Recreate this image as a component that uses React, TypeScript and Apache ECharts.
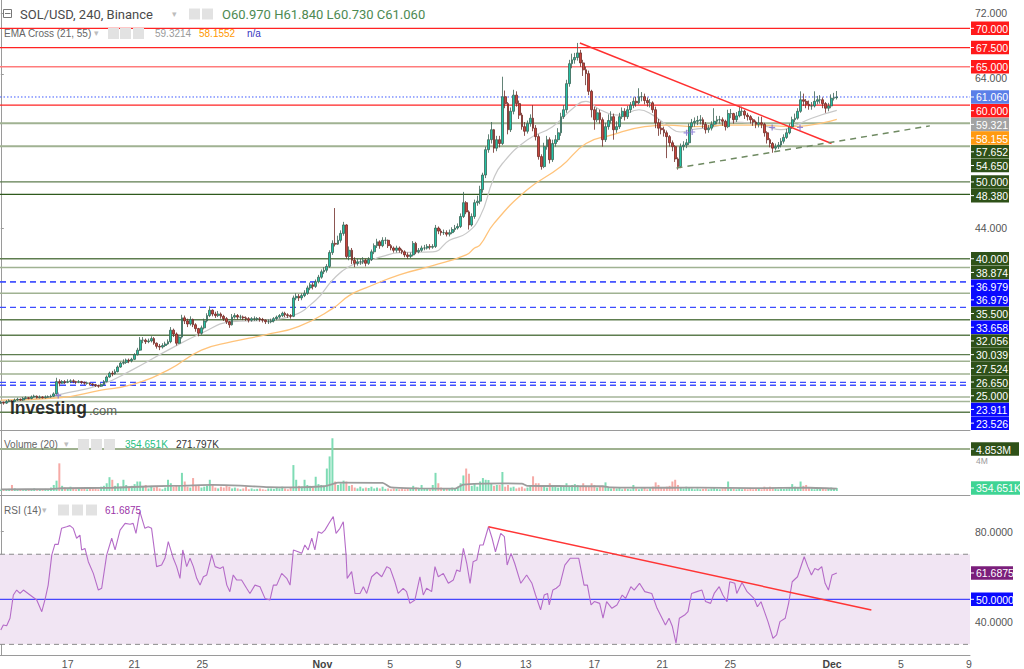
import React, { useEffect, useRef } from "react";
import * as echarts from "echarts";

// ---------- DATA (4h bars, index = bar number) ----------
const firstOpen = 21.2;
const closes = [
  21.3, 21.2, 21.4, 21.5, 21.4, 21.6, 21.7, 21.6, 21.8, 21.9,
  21.8, 22.0, 22.1, 21.9, 22.0, 21.9, 22.0, 22.0, 22.1, 22.4,
  24.0, 23.8, 24.0, 23.9, 24.0, 24.1, 24.0, 23.9, 24.0, 23.9,
  23.8, 23.8, 23.7, 23.6, 23.5, 23.4, 23.6, 24.0, 24.6, 25.1,
  25.0, 25.3, 25.9, 26.4, 26.5, 26.8, 26.7, 26.9, 27.5, 28.1,
  29.4, 29.4, 29.2, 29.3, 29.6, 29.0, 28.6, 28.5, 28.7, 28.9,
  29.2, 30.7, 30.2, 29.0, 29.8, 32.3, 31.9, 31.5, 32.1, 31.4,
  30.9, 30.3, 31.0, 31.9, 32.6, 33.3, 32.8, 32.6, 32.8, 32.5,
  32.2, 31.8, 31.4, 32.4, 32.6, 32.4, 32.4, 32.3, 32.2, 32.0,
  32.2, 32.2, 32.2, 32.1, 32.0, 31.8, 31.8, 31.9, 32.2, 32.4,
  32.6, 32.9, 32.7, 32.6, 32.5, 34.9, 35.1, 34.9, 35.2, 35.5,
  36.2, 36.6, 36.4, 37.0, 37.6, 38.3, 38.5, 39.0, 40.8, 42.0,
  41.9, 42.4, 43.3, 44.4, 40.3, 41.1, 39.8, 39.4, 39.6, 39.6,
  39.8, 39.4, 39.9, 40.9, 41.7, 42.2, 41.7, 42.4, 42.4, 41.7,
  41.4, 41.1, 41.4, 41.1, 40.9, 40.5, 40.3, 40.5, 42.0, 40.9,
  41.1, 41.4, 41.4, 41.6, 41.5, 41.6, 44.0, 43.6, 43.4, 43.4,
  43.2, 43.4, 43.8, 44.0, 44.2, 45.5, 47.3, 46.1, 44.4, 45.5,
  47.3, 47.5, 49.0, 50.9, 54.2, 55.5, 56.8, 54.4, 55.5, 55.0,
  61.1, 60.2, 56.8, 59.2, 61.3, 60.2, 58.7, 57.2, 56.6, 57.6,
  58.3, 57.0, 55.9, 53.3, 52.0, 54.6, 55.5, 52.9, 55.0, 55.5,
  56.4, 58.5, 59.4, 62.8, 65.4, 65.9, 66.2, 66.8, 65.5, 64.6,
  64.1, 61.8, 59.4, 58.1, 59.0, 58.1, 55.5, 57.2, 58.0, 58.5,
  56.8, 57.2, 58.5, 59.2, 58.5, 59.4, 60.0, 60.5, 60.3, 61.1,
  61.1, 60.6, 60.3, 60.3, 59.4, 57.7, 57.0, 56.8, 56.4, 55.9,
  55.1, 54.6, 53.0, 52.0, 54.6, 54.8, 55.1, 57.2, 57.7, 57.9,
  58.0, 58.1, 57.5, 56.8, 57.0, 57.5, 57.9, 58.1, 58.1, 57.9,
  57.2, 58.9, 58.9, 58.1, 58.6, 59.2, 59.2, 58.7, 58.5, 58.1,
  57.8, 57.5, 57.7, 57.5, 56.4, 55.5, 55.0, 54.4, 54.6, 54.8,
  55.3, 55.8, 56.4, 57.2, 58.1, 58.3, 59.2, 60.7, 60.5, 60.1,
  59.9, 59.9, 60.5, 60.7, 60.7, 60.2, 59.6, 59.9, 60.9, 60.97,
  61.06,
];
const highs = [
  21.5, 21.4, 21.6, 21.7, 21.6, 21.8, 21.9, 21.8, 22.0, 22.1,
  22.0, 22.2, 22.3, 22.2, 22.2, 22.1, 22.2, 22.2, 22.3, 22.6,
  24.5, 24.3, 24.2, 24.2, 24.3, 24.3, 24.3, 24.1, 24.2, 24.1,
  24.0, 24.0, 23.9, 23.8, 23.7, 23.6, 23.8, 24.2, 24.8, 25.3,
  25.4, 25.6, 26.1, 26.6, 26.9, 27.0, 27.0, 27.1, 27.7, 28.4,
  29.8, 29.8, 29.6, 29.6, 29.9, 29.8, 29.1, 28.9, 29.0, 29.2,
  29.5, 31.1, 30.9, 30.4, 30.1, 32.7, 32.6, 32.2, 32.5, 32.2,
  31.6, 31.0, 31.3, 32.2, 32.9, 33.8, 33.4, 33.1, 33.2, 33.0,
  32.7, 32.4, 31.9, 32.8, 32.9, 32.8, 32.7, 32.6, 32.5, 32.4,
  32.4, 32.5, 32.4, 32.4, 32.3, 32.1, 32.1, 32.2, 32.4, 32.6,
  32.8, 33.1, 33.1, 32.9, 32.8, 35.2, 35.5, 35.4, 35.5, 35.9,
  36.5, 36.9, 36.9, 37.3, 37.9, 38.6, 38.9, 39.3, 41.1, 42.4,
  46.6, 43.0, 43.7, 44.8, 44.5, 41.6, 41.4, 40.2, 40.0, 40.0,
  40.2, 40.0, 40.2, 41.2, 42.0, 42.6, 42.4, 42.8, 42.8, 42.5,
  41.9, 41.6, 41.7, 41.6, 41.3, 41.1, 40.8, 40.8, 42.3, 42.2,
  41.4, 41.7, 41.8, 41.9, 41.9, 41.9, 44.4, 44.2, 43.9, 43.8,
  43.7, 43.8, 44.1, 44.4, 44.6, 45.9, 48.7, 47.5, 46.3, 45.9,
  47.7, 48.2, 49.5, 51.2, 54.6, 56.2, 57.8, 56.9, 56.0, 56.0,
  63.7, 61.9, 60.4, 59.7, 62.0, 61.8, 60.6, 59.0, 57.8, 58.0,
  58.8, 60.0, 57.4, 56.2, 53.6, 55.1, 56.0, 55.8, 55.5, 56.1,
  57.0, 59.0, 60.0, 63.3, 65.9, 66.7, 66.8, 68.1, 67.2, 65.9,
  65.0, 64.5, 62.0, 59.8, 59.6, 59.4, 58.4, 57.7, 58.8, 59.2,
  58.9, 57.9, 59.0, 59.7, 59.6, 59.9, 60.4, 61.0, 61.1, 62.2,
  61.7, 61.5, 61.0, 60.8, 60.5, 59.8, 58.2, 57.9, 57.2, 56.7,
  56.1, 55.4, 54.8, 53.2, 55.0, 55.3, 55.6, 57.6, 58.2, 58.4,
  58.6, 58.7, 58.4, 57.8, 57.4, 57.9, 59.6, 58.6, 58.6, 58.4,
  58.1, 59.4, 59.5, 59.0, 59.1, 59.9, 59.8, 59.4, 59.0, 58.7,
  58.3, 58.0, 58.5, 58.5, 57.7, 56.6, 55.7, 55.2, 55.0, 55.2,
  55.7, 56.2, 56.9, 57.6, 58.5, 58.9, 59.6, 61.8, 61.5, 60.8,
  60.6, 60.4, 61.8, 61.2, 61.3, 61.0, 60.4, 60.3, 61.4, 61.6,
  61.84,
];
const lows = [
  21.1, 21.0, 21.1, 21.3, 21.3, 21.3, 21.5, 21.5, 21.5, 21.7,
  21.7, 21.7, 21.9, 21.8, 21.8, 21.8, 21.8, 21.9, 21.9, 22.0,
  22.3, 23.4, 23.7, 23.7, 23.8, 23.8, 23.8, 23.7, 23.8, 23.7,
  23.6, 23.6, 23.5, 23.4, 23.3, 23.2, 23.3, 23.5, 23.9, 24.5,
  24.7, 24.9, 25.2, 25.8, 26.2, 26.3, 26.4, 26.5, 26.8, 27.4,
  28.0, 29.0, 28.9, 29.0, 29.1, 28.8, 28.3, 28.1, 28.3, 28.5,
  28.8, 29.0, 29.8, 28.7, 28.9, 29.6, 31.5, 31.1, 31.3, 31.1,
  30.5, 29.9, 30.1, 30.8, 31.7, 32.4, 32.5, 32.3, 32.4, 32.2,
  31.9, 31.5, 31.0, 31.3, 32.2, 32.1, 32.1, 32.0, 31.9, 31.7,
  31.8, 31.9, 31.9, 31.8, 31.7, 31.5, 31.5, 31.6, 31.7, 32.0,
  32.2, 32.4, 32.4, 32.3, 32.2, 32.4, 34.6, 34.5, 34.6, 35.0,
  35.3, 35.9, 36.0, 36.2, 36.8, 37.4, 38.0, 38.2, 38.8, 40.5,
  41.6, 41.8, 42.1, 43.0, 40.0, 39.8, 39.3, 38.9, 39.1, 39.2,
  39.3, 39.0, 39.2, 39.7, 40.6, 41.4, 41.3, 41.5, 41.9, 41.4,
  41.1, 40.8, 40.8, 40.8, 40.6, 40.2, 40.0, 40.1, 40.3, 40.6,
  40.7, 40.9, 41.1, 41.2, 41.2, 41.3, 41.4, 43.2, 43.0, 43.1,
  42.9, 42.9, 43.2, 43.5, 43.8, 44.0, 45.3, 45.8, 43.8, 44.2,
  45.2, 46.9, 47.1, 48.6, 50.5, 53.8, 55.0, 53.8, 54.0, 54.5,
  54.8, 59.6, 56.2, 56.5, 58.8, 59.8, 58.2, 56.8, 56.0, 56.3,
  57.2, 56.6, 55.4, 52.9, 51.6, 51.8, 54.2, 52.4, 52.6, 54.6,
  55.2, 56.0, 58.2, 59.0, 62.4, 64.8, 65.4, 65.8, 65.0, 63.8,
  62.6, 61.3, 58.4, 56.8, 57.8, 57.6, 54.6, 55.2, 56.8, 57.6,
  55.5, 56.4, 56.9, 58.2, 58.0, 58.2, 59.0, 59.6, 59.8, 60.1,
  60.5, 60.1, 59.8, 59.7, 59.0, 57.0, 56.0, 56.2, 55.9, 53.1,
  54.6, 54.0, 52.6, 51.6, 51.8, 54.1, 54.4, 54.8, 56.9, 57.2,
  57.4, 57.5, 57.0, 56.3, 56.4, 56.7, 57.2, 57.5, 57.6, 57.3,
  56.7, 57.0, 58.3, 57.6, 57.8, 58.4, 58.6, 58.2, 58.0, 57.6,
  57.3, 57.0, 57.1, 57.0, 55.9, 55.0, 54.5, 53.8, 54.1, 54.3,
  54.5, 55.0, 55.6, 56.2, 56.9, 57.8, 58.1, 59.0, 59.9, 59.6,
  59.4, 59.4, 59.7, 60.1, 60.2, 59.6, 59.0, 59.2, 59.6, 60.6,
  60.73,
];
// volume in millions
const volumes = [
  0.15, 0.2, 0.12, 0.25, 0.7, 0.3, 0.15, 0.2, 0.1, 0.15,
  0.2, 0.12, 0.3, 0.1, 0.15, 0.2, 0.25, 0.15, 0.4, 0.7,
  1.2, 3.2, 0.6, 0.4, 0.3, 0.5, 0.35, 0.2, 0.3, 0.25,
  0.35, 0.2, 0.4, 0.3, 0.25, 0.2, 0.5, 0.6, 0.9, 1.6,
  1.3, 0.6, 0.9, 0.5, 1.3, 0.7, 0.4, 0.6, 0.8, 1.1,
  1.1, 0.5, 0.7, 0.3, 0.6, 0.4, 0.5, 0.3, 0.2, 0.4,
  1.3, 0.9, 0.5, 0.6, 0.6, 2.1, 1.1, 0.5, 0.4, 1.5,
  0.6, 0.7, 0.4, 0.5, 0.6, 1.3, 0.7, 0.4, 0.3, 0.5,
  0.4, 0.7, 0.5, 0.3, 0.4, 0.3, 0.2, 0.3, 0.5, 0.2,
  0.3, 0.2, 0.25, 0.3, 0.2, 0.15, 0.3, 0.3, 0.25, 0.4,
  0.3, 0.5, 0.3, 0.2, 0.4, 3.0, 1.3, 0.6, 0.5, 1.3,
  0.7, 0.6, 0.4, 1.65, 0.8, 0.7, 0.6, 2.6, 4.0, 6.1,
  1.1, 0.7, 0.9, 1.2, 1.1, 0.6, 0.7, 0.4, 0.3, 0.5,
  0.3, 0.4, 0.35, 0.5, 0.3, 0.4, 0.3, 0.5, 0.25, 0.3,
  0.2, 0.3, 0.25, 0.2, 0.3, 0.2, 0.3, 0.25, 0.6, 0.4,
  0.3, 0.7, 0.25, 0.3, 0.2, 0.7, 2.1, 0.9, 0.4, 0.3,
  0.3, 0.25, 0.4, 0.3, 0.5, 0.9, 1.8, 2.6, 2.0, 0.6,
  0.9, 0.5, 1.1, 1.5, 1.3, 1.27, 0.9, 0.6, 0.7, 0.7,
  2.2, 0.5, 0.7, 0.4, 0.5, 0.3, 0.4, 0.5, 0.3, 0.4,
  0.6, 1.7, 0.9, 0.9, 0.6, 0.5, 0.4, 0.9, 0.7, 0.5,
  0.4, 0.5, 0.6, 0.9, 0.6, 0.7, 0.8, 0.7, 0.5, 0.9,
  0.6, 0.5, 0.9, 0.7, 0.4, 0.5, 0.6, 1.0, 0.4, 0.3,
  0.4, 0.3, 0.35, 0.2, 0.3, 0.25, 0.2, 0.7, 0.3, 0.2,
  0.3, 0.4, 0.2, 0.3, 0.5, 1.0, 0.7, 0.4, 0.3, 0.5,
  0.6, 1.1, 1.3, 0.7, 0.4, 0.3, 0.5, 0.4, 0.3, 0.2,
  0.3, 0.2, 0.25, 0.3, 0.2, 0.3, 0.4, 0.25, 0.2, 0.3,
  0.4, 1.1, 0.3, 0.25, 0.2, 0.3, 0.2, 0.25, 0.2, 0.3,
  0.2, 0.3, 0.25, 0.2, 0.5, 0.3, 0.5, 0.4, 0.3, 0.2,
  0.3, 0.25, 0.3, 0.4, 0.8, 0.5, 0.4, 1.1, 0.6, 0.7,
  0.4, 0.3, 0.2, 0.3, 0.25, 0.3, 0.2, 0.3, 0.4, 0.3,
  0.355,
];
const volumeMA = [
  [0, 0.2], [18, 0.22], [22, 0.32], [40, 0.38], [55, 0.55], [66, 0.62], [76, 0.7], [86, 0.62],
  [96, 0.45], [106, 0.42], [116, 0.55], [119, 0.8], [121, 0.98], [137, 0.95], [140, 0.42],
  [150, 0.3], [163, 0.27], [166, 0.75], [180, 0.88], [187, 0.85], [189, 0.6], [200, 0.58],
  [216, 0.55], [219, 0.42], [240, 0.38], [250, 0.4], [270, 0.33], [290, 0.38], [300, 0.27],
];
const ema21 = [
  [0, 21.4], [17, 21.9], [21, 22.3], [36, 23.6], [47, 25.5], [60, 28.1], [72, 30.3], [83, 31.8],
  [95, 32.0], [104, 32.5], [113, 34.6], [119, 37.2], [125, 39.0], [131, 39.6], [137, 40.3],
  [143, 40.8], [155, 40.9], [161, 42.4], [167, 43.3], [172, 45.5], [176.7, 50.3], [180, 52.4],
  [189, 55.5], [198, 57.2], [206, 59.8], [210, 60.5], [215, 59.4], [222, 58.7], [229, 59.4],
  [234, 58.7], [239, 57.4], [244, 56.5], [248, 56.8], [256, 57.2], [263, 57.8], [270, 57.6],
  [275, 57.2], [280, 56.8], [284, 57.2], [291, 58.3], [300, 59.3214],
];
const ema55 = [
  [0, 21.6], [21, 21.9], [36, 22.9], [47, 23.6], [60, 25.5], [72, 28.1], [83, 29.2], [95, 30.1],
  [107, 31.2], [119, 33.5], [125, 35.2], [131, 36.2], [143, 37.9], [155, 39.1], [167, 40.5],
  [170, 41.4], [172, 41.8], [177, 44.6], [189, 49.0], [201, 52.0], [210, 55.0], [219, 56.1],
  [231, 57.2], [239, 57.4], [249, 57.2], [261, 57.4], [272, 57.4], [284, 57.2], [300, 58.1552],
];
const rsi = [
  [0, 36.4], [0.9, 38.6], [2.1, 38.3], [3.3, 41.6], [4.5, 51.9], [5.7, 54.1], [6.9, 52.6], [8.1, 54.1],
  [10.5, 51.9], [12.9, 49.7], [14.7, 44.5], [15.9, 50.1], [17, 56.3], [18.3, 69.7], [19.4, 74.4],
  [20.6, 74.4], [21.8, 81.5], [23.6, 82.2], [24.8, 82.7], [26, 81.5], [27.2, 77.1], [28.4, 78.5],
  [29, 71.9], [30.2, 72.6], [31.4, 66.7], [33.2, 61.5], [35, 54.1], [36.2, 54.9], [38, 69.7],
  [39.8, 77.1], [41, 71.9], [42.8, 80.7], [44.6, 83.7], [46.4, 83.3], [47.5, 83.7], [48.5, 79.3],
  [49.9, 88.9], [51.7, 81.5], [52.9, 82.2], [54.1, 81.5], [55.9, 64.5], [57.7, 65.2], [58.9, 68.2],
  [60.1, 75.6], [61.9, 68.2], [63.1, 64.5], [64.3, 59.3], [65.3, 71.9], [66.7, 64.5], [67.9, 68.2],
  [69.1, 64.5], [70.3, 59.3], [71.5, 56.3], [72.7, 60.0], [73.9, 60.8], [75.7, 69.7], [76.9, 64.5],
  [78.7, 63.7], [79.8, 64.5], [81.1, 56.3], [82.2, 53.4], [83.4, 60.8], [84.6, 58.6], [86.4, 58.6],
  [88.2, 54.9], [89.4, 52.6], [91.2, 56.3], [93, 55.6], [94.8, 50.4], [96.6, 49.7], [97.8, 56.3],
  [99, 56.3], [100.8, 61.5], [102.6, 59.3], [103.8, 56.3], [105, 71.9], [106.7, 71.1], [108, 70.4],
  [109.1, 74.1], [110.3, 71.9], [111.6, 77.1], [112.7, 71.9], [113.9, 80.0], [115.1, 79.3],
  [116.3, 80.7], [118.1, 84.4], [119.3, 86.7], [120.3, 79.3], [121.7, 81.5], [122.9, 84.4],
  [123.9, 69.7], [124.3, 59.3], [125.9, 62.3], [127.1, 52.6], [128.9, 52.6], [130.1, 55.6],
  [131.3, 52.6], [133.1, 60.0], [134.9, 62.0], [136.7, 60.0], [138.5, 64.5], [139.7, 63.7],
  [141.4, 57.8], [142.6, 52.6], [144.4, 54.9], [145.6, 53.4], [146.8, 48.2], [148.6, 49.7],
  [150.4, 60.0], [151.6, 51.9], [152.8, 54.9], [154.6, 53.4], [155.8, 64.5], [157, 60.0],
  [158.8, 61.5], [160.6, 57.1], [162.4, 58.6], [163.6, 63.0], [164.8, 62.3], [166, 72.6],
  [167.2, 66.0], [168.4, 57.1], [169.5, 66.7], [170.8, 67.4], [171.9, 74.1], [173.1, 74.1],
  [175, 82.2], [176.3, 77.1], [177.5, 71.1], [179.4, 79.3], [180.7, 77.8], [181.7, 65.2],
  [183.1, 70.4], [184.4, 66.0], [186.6, 57.1], [188.7, 60.8], [190.6, 57.1], [191.9, 51.9],
  [193.7, 45.3], [195, 51.9], [196.2, 52.6], [196.8, 47.5], [198.1, 54.1], [199.3, 54.9],
  [200.6, 56.3], [202.4, 65.2], [204.3, 68.2], [207.4, 68.2], [209.3, 56.3], [210.5, 56.3],
  [211.8, 47.5], [213, 49.0], [214.9, 48.2], [216.1, 41.6], [217.4, 49.0], [219.3, 46.0],
  [221.1, 47.5], [223, 51.9], [224.2, 50.4], [226.1, 55.6], [227.3, 54.1], [229.2, 57.1],
  [231.1, 53.4], [233.6, 52.6], [235.5, 46.0], [237.3, 41.6], [238.5, 38.6], [239.8, 41.6],
  [241, 37.9], [242.3, 30.5], [243.5, 41.6], [245.4, 43.0], [246.6, 44.5], [247.9, 52.6],
  [249.8, 53.4], [251.6, 54.1], [252.9, 49.0], [254.7, 48.2], [256, 52.6], [257.8, 55.6],
  [259.1, 51.9], [260.6, 48.9], [261.6, 57.8], [263.4, 57.1], [264.1, 52.6], [266, 57.5],
  [267.8, 53.4], [270.3, 50.4], [271.5, 46.7], [272.8, 48.9], [275.3, 40.1], [277.1, 32.7],
  [278.4, 34.2], [279.6, 40.1], [281.5, 41.6], [282.7, 48.2], [284, 57.8], [285.9, 60.0],
  [288.3, 68.9], [289.6, 64.5], [290.9, 60.8], [292.1, 63.7], [293.3, 63.0], [294.6, 64.5],
  [295.8, 57.1], [297, 54.1], [298.3, 60.8], [300, 61.6875],
];
const emaCrosses = [[20.6, 22.2], [246.1, 56.4], [248.1, 56.5], [276.8, 57.1], [286.8, 57.1]];

// drawn trend lines [bar, value]
const priceTrend = [[207.8, 68.1], [298.1, 55.0]];
const supportTrend = [[242.5, 51.8], [333.4, 57.3]];
const rsiTrend = [[175, 82.2], [312.4, 45.3]];

// horizontal levels
const redLevels = [70, 67.5, 60];
const pinkLevels = [65];
const lightGreenLevels = [57.652, 54.65, 38.874, 35.5, 26.65, 25];
const darkGreenLevels = [50, 48.38, 40, 32.056, 30.039, 27.524];
const blueLevels = [36.979, 36.979, 33.658, 23.911, 23.526];
const unlabeledLevels = [22.0, 21.4, 20.0];
const lastPrice = 61.06;
const emaLast = [59.321, 58.155];
const volumeLevel = 4.853;
const lastVolume = 0.354651;
const rsiBand = [30, 70];
const rsiMid = 50;
const rsiLast = 61.6875;

// ticks (only those not hidden behind level labels)
const priceTicks = [44, 64, 72];
const rsiTicks = [40, 80];
const volumeTicks = [4];
const timeTickBars = [24.0, 47.9, 72.3, 115.4, 139.7, 164.2, 188.4, 213.0, 237.4, 261.8, 298.3, 323.0, 347.4];
const timeTickLabels = ["17", "21", "25", "Nov", "5", "9", "13", "17", "21", "25", "Dec", "5", "9"];

const FONT = "'Liberation Sans', Arial, sans-serif";
const X_MIN = -0.29;
const X_MAX = 347.8;

export default function App() {
  const ref = useRef<HTMLDivElement>(null);

  useEffect(() => {
    const chart = echarts.init(ref.current!, null, { renderer: "svg" });

    const candleData = closes.map((c, i) => {
      const o = i === 0 ? firstOpen : closes[i - 1];
      return [i, o, c, Math.min(lows[i], o, c), Math.max(highs[i], o, c)];
    });
    const volData = volumes.map((v, i) => {
      const o = i === 0 ? firstOpen : closes[i - 1];
      const up = closes[i] >= o;
      return { value: [i, v], itemStyle: { color: up ? "#7fdcb5" : "#f6aaa6" } };
    });

    // a horizontal level drawn as a two-point line across the whole axis
    const hLine = (axis: number, v: number, color: string, width: number, type: any = "solid", z = 1) => ({
      type: "line",
      xAxisIndex: axis,
      yAxisIndex: axis,
      data: [[X_MIN, v], [X_MAX, v]],
      symbol: "none",
      silent: true,
      z,
      itemStyle: { color },
      lineStyle: { color, width, type },
    });

    const levelSeries = [
      ...unlabeledLevels.map((v, i) => hLine(0, v, i === 2 ? "#5e7d4f" : "#a4b598", 1.5)),
      ...lightGreenLevels.map((v) => hLine(0, v, "#a0b292", v > 50 ? 2 : 1.5)),
      ...darkGreenLevels.map((v) => hLine(0, v, v === 48.38 ? "#2f5a1c" : "#5e7d4f", 1.3)),
      ...blueLevels.map((v) => hLine(0, v, "#3d4dff", 1.3, [6, 4])),
      ...redLevels.map((v) => hLine(0, v, "#ff2323", 1.3, "solid", 2)),
      ...pinkLevels.map((v) => hLine(0, v, "#ff7c7c", 1.7, "solid", 2)),
      hLine(0, lastPrice, "#3f5bff", 1, [1.5, 2], 2),
      hLine(1, volumeLevel, "#9fb190", 2),
      hLine(2, rsiBand[1], "#8a8a8a", 1, [5, 4], 3),
      hLine(2, rsiBand[0], "#8a8a8a", 1, [5, 4], 3),
      hLine(2, rsiMid, "#1f1fff", 1, "solid", 3),
    ];

    const xAxisBase = (i: number) => ({
      type: "value",
      gridIndex: i,
      min: X_MIN,
      max: X_MAX,
      axisLine: { show: true, onZero: false, lineStyle: { color: "#9a9a9a", width: 1 } },
      axisTick: { show: false },
      splitLine: { show: false },
      axisLabel: { show: false },
    });

    const option: any = {
      animation: false,
      backgroundColor: "#ffffff",
      textStyle: { fontFamily: FONT },
      grid: [
        { left: 0, top: 0, width: 970, height: 430 },
        { left: 0, top: 431, width: 970, height: 64 },
        { left: 0, top: 496, width: 970, height: 159 },
      ],
      xAxis: [
        xAxisBase(0),
        xAxisBase(1),
        {
          ...xAxisBase(2),
          axisLabel: {
            show: true,
            customValues: timeTickBars,
            color: "#555",
            fontSize: 10.5,
            margin: 3,
            formatter: (v: number) => {
              let best = 0;
              timeTickBars.forEach((t, i) => {
                if (Math.abs(t - v) < Math.abs(timeTickBars[best] - v)) best = i;
              });
              const t = timeTickLabels[best];
              return t === "Nov" || t === "Dec" ? `{b|${t}}` : t;
            },
            rich: { b: { fontWeight: "bold", fontSize: 10.5, color: "#444", fontFamily: FONT } },
          },
        },
      ],
      yAxis: [
        {
          type: "value",
          gridIndex: 0,
          position: "right",
          min: 17.7,
          max: 73.69,
          axisLine: { show: true, lineStyle: { color: "#9a9a9a" } },
          axisTick: { show: true, customValues: priceTicks, length: 3, lineStyle: { color: "#9a9a9a" } },
          axisLabel: {
            customValues: priceTicks,
            color: "#555",
            fontSize: 10.5,
            margin: 5,
            formatter: (v: number) => (v === 64 ? `{low|${v.toFixed(3)}}` : v.toFixed(3)),
            rich: { low: { color: "#555", fontSize: 10.5, fontFamily: FONT, padding: [8, 0, 0, 0] } },
          },
          splitLine: { show: false },
        },
        {
          type: "value",
          gridIndex: 1,
          position: "right",
          min: -0.46,
          max: 6.94,
          axisLine: { show: true, lineStyle: { color: "#9a9a9a" } },
          axisTick: { show: false },
          axisLabel: {
            customValues: volumeTicks,
            color: "#999",
            fontSize: 8.5,
            margin: 6,
            verticalAlign: "top",
            formatter: (v: number) => `${v}M`,
          },
          splitLine: { show: false },
        },
        {
          type: "value",
          gridIndex: 2,
          position: "right",
          min: 25.28,
          max: 95.85,
          axisLine: { show: true, lineStyle: { color: "#9a9a9a" } },
          axisTick: { show: true, customValues: rsiTicks, length: 3, lineStyle: { color: "#9a9a9a" } },
          axisLabel: { customValues: rsiTicks, color: "#555", fontSize: 10.5, margin: 5, formatter: (v: number) => v.toFixed(4) },
          splitLine: { show: false },
        },
      ],
      series: [
        ...levelSeries,
        {
          type: "line",
          xAxisIndex: 0,
          yAxisIndex: 0,
          data: ema21,
          smooth: true,
          symbol: "none",
          z: 3,
          lineStyle: { color: "#c8c8c8", width: 1.2 },
        },
        {
          type: "line",
          xAxisIndex: 0,
          yAxisIndex: 0,
          data: ema55,
          smooth: true,
          symbol: "none",
          z: 3,
          lineStyle: { color: "#ffc37a", width: 1.3 },
        },
        {
          type: "candlestick",
          xAxisIndex: 0,
          yAxisIndex: 0,
          data: candleData,
          encode: { x: 0, y: [1, 2, 3, 4] },
          barWidth: 2.3,
          z: 5,
          itemStyle: {
            color: "#22c2a6",
            color0: "#c9443c",
            borderColor: "#3b6354",
            borderColor0: "#6e2b26",
            borderWidth: 0.8,
          },
        },
        {
          type: "line",
          xAxisIndex: 0,
          yAxisIndex: 0,
          data: priceTrend,
          symbol: "none",
          z: 6,
          lineStyle: { color: "#ff3030", width: 1.5 },
        },
        {
          type: "line",
          xAxisIndex: 0,
          yAxisIndex: 0,
          data: supportTrend,
          symbol: "none",
          z: 6,
          lineStyle: { color: "#6f8a62", width: 1.5, type: [6, 5] },
        },
        {
          type: "scatter",
          xAxisIndex: 0,
          yAxisIndex: 0,
          data: emaCrosses,
          symbol: "path://M4 0H6V4H10V6H6V10H4V6H0V4H4Z",
          symbolSize: 6,
          z: 7,
          itemStyle: { color: "#7a6ad0", opacity: 0.8 },
        },
        {
          type: "bar",
          xAxisIndex: 1,
          yAxisIndex: 1,
          data: volData,
          barWidth: 2,
          z: 2,
        },
        {
          type: "line",
          xAxisIndex: 1,
          yAxisIndex: 1,
          data: volumeMA,
          smooth: 0.2,
          symbol: "none",
          z: 3,
          lineStyle: { color: "#9c9c9c", width: 1.8 },
        },
        {
          type: "line",
          xAxisIndex: 2,
          yAxisIndex: 2,
          data: rsi,
          symbol: "none",
          z: 4,
          lineStyle: { color: "#b56cc8", width: 1.1 },
          markArea: {
            silent: true,
            itemStyle: { color: "#f1e5f3" },
            data: [[{ yAxis: rsiBand[0] }, { yAxis: rsiBand[1] }]],
          },
        },
        {
          type: "line",
          xAxisIndex: 2,
          yAxisIndex: 2,
          data: rsiTrend,
          symbol: "none",
          z: 6,
          lineStyle: { color: "#ff3535", width: 1.5 },
        },
      ],
    };

    chart.setOption(option);

    // ---- right-side price labels, stacked like the reference ----
    const toY = (axis: number, v: number) => chart.convertToPixel({ yAxisIndex: axis } as any, v) as number;
    const mainLabels = [
      ...redLevels.map((v) => ({ v, bg: "#ff1a1a" })),
      ...pinkLevels.map((v) => ({ v, bg: "#ff1a1a" })),
      { v: lastPrice, bg: "#5b7fe8" },
      { v: emaLast[0], bg: "#a3a3a3" },
      { v: emaLast[1], bg: "#ff9a10" },
      ...lightGreenLevels.map((v) => ({ v, bg: "#2e5118" })),
      ...darkGreenLevels.map((v) => ({ v, bg: "#2e5118" })),
      ...blueLevels.map((v) => ({ v, bg: "#0a0aff" })),
    ].map((d) => ({ ...d, text: d.v.toFixed(3), y: toY(0, d.v) }));
    mainLabels.sort((a, b) => a.y - b.y || b.v - a.v);
    const GAP = 13.7;
    for (let i = 1; i < mainLabels.length; i++) {
      if (mainLabels[i].y < mainLabels[i - 1].y + GAP) mainLabels[i].y = mainLabels[i - 1].y + GAP;
    }

    const boxes: any[] = [];
    const addBox = (y: number, text: string, bg: string, w: number) => {
      boxes.push({
        type: "rect",
        z: 100,
        shape: { x: 971, y: y - 6.75, width: w, height: 13.5 },
        style: { fill: bg },
      });
      boxes.push({
        type: "line",
        z: 101,
        shape: { x1: 971, y1: y, x2: 974, y2: y },
        style: { stroke: "#ffffff", lineWidth: 1 },
      });
      boxes.push({
        type: "text",
        z: 102,
        x: 976,
        y: y + 0.5,
        style: {
          text,
          fill: "#ffffff",
          fontSize: 10.5,
          fontFamily: FONT,
          textVerticalAlign: "middle",
          verticalAlign: "middle",
        },
      });
    };
    mainLabels.forEach((l) => addBox(l.y, l.text, l.bg, 38));

    addBox(toY(1, volumeLevel), `${volumeLevel.toFixed(3)}M`, "#2e5118", 48);
    addBox(toY(1, lastVolume), `${(lastVolume * 1000).toFixed(3)}K`, "#3fd494", 49);
    addBox(toY(2, rsiLast), rsiLast.toFixed(4), "#7b1f7b", 42);
    addBox(toY(2, rsiMid), rsiMid.toFixed(4), "#0a0aff", 42);

    const txt = (x: number, y: number, text: string, fill: string, fontSize: number, extra: any = {}) => ({
      type: "text",
      z: 110,
      x,
      y,
      style: { text, fill, fontSize, fontFamily: FONT, textVerticalAlign: "middle", verticalAlign: "middle", ...extra },
    });
    const icon = (x: number, y: number) => ({
      type: "rect",
      z: 110,
      shape: { x, y, width: 11, height: 11 },
      style: { fill: "#e2e2e2" },
    });
    const caret = (x: number, y: number) => txt(x, y, "▾", "#bdbdbd", 9);

    const header: any[] = [
      { type: "rect", z: 110, shape: { x: 3.5, y: 9.5, width: 8, height: 8 }, style: { fill: "none", stroke: "#777", lineWidth: 1 } },
      { type: "line", z: 110, shape: { x1: 5, y1: 13.5, x2: 10.5, y2: 13.5 }, style: { stroke: "#777", lineWidth: 1 } },
      txt(20, 14, "SOL/USD, 240, Binance", "#4a4a4a", 13, { fontFamily: "Roboto, " + FONT }),
      caret(172, 14),
      icon(189, 8.5),
      icon(202, 8.5),
      txt(222, 14, "O60.970 H61.840 L60.730 C61.060", "#4d8a52", 13, { fontFamily: "Roboto, " + FONT }),
      txt(4, 33, "EMA Cross (21, 55)", "#666", 10),
      caret(94, 33),
      icon(108, 28),
      icon(120, 28),
      icon(133, 28),
      txt(155, 33, "59.3214", "#9a9a9a", 10),
      txt(199, 33, "58.1552", "#ff9800", 10),
      txt(247, 33, "n/a", "#3535c0", 10),
      txt(4, 444, "Volume (20)", "#666", 10),
      caret(64, 444),
      icon(78, 439),
      icon(91, 439),
      icon(104, 439),
      txt(125, 444, "354.651K", "#26c07f", 10),
      txt(176, 444, "271.797K", "#333", 10),
      txt(4, 510, "RSI (14)", "#666", 10),
      caret(42, 510),
      icon(58, 504.5),
      icon(72, 504.5),
      icon(86, 504.5),
      txt(105, 510, "61.6875", "#9b35a8", 10),
      txt(10, 408, "Investing", "#1b1b1b", 17.5, { fontWeight: "bold", opacity: 0.92 }),
      txt(89, 410, ".com", "#555", 13, { opacity: 0.9 }),
    ];

    chart.setOption({ graphic: [...boxes, ...header] });

    return () => chart.dispose();
  }, []);

  return (
    <div
      ref={ref}
      style={{ position: "absolute", left: 0, top: 0, width: 1024, height: 669, background: "#fff" }}
    />
  );
}
